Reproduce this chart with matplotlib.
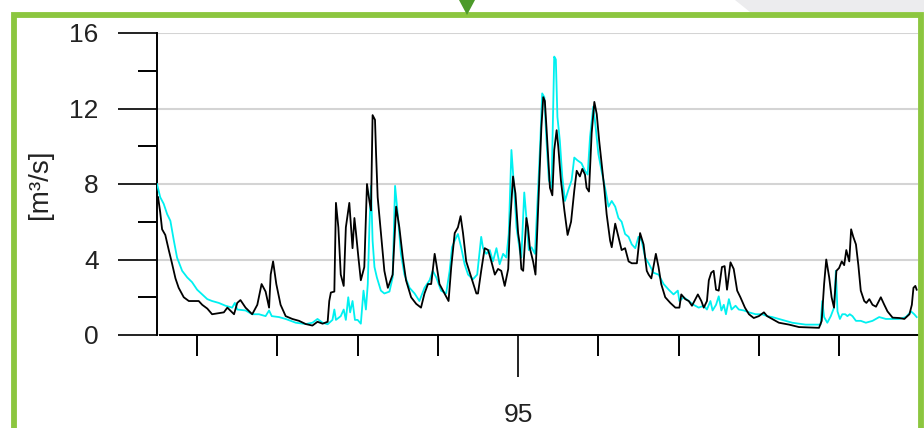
import matplotlib
matplotlib.use("Agg")
import matplotlib.pyplot as plt
from matplotlib.patches import Rectangle, Polygon
from matplotlib.ticker import FixedLocator

plt.rcParams['font.family'] = ['Liberation Sans', 'DejaVu Sans']

# day index (tick every 30 days, "95" = start of year)
black_day = [0.4, 1.2, 1.9, 3.1, 4.4, 5.6, 6.9, 8.1, 10.0, 11.9, 15.6, 16.9, 18.8, 20.6, 25.0, 26.3,
             28.8, 30.0, 31.2, 33.1, 35.6, 37.5, 39.1, 40.6, 41.9, 42.5, 43.4, 44.6, 46.2, 48.1, 50.6,
             53.1, 55.6, 58.1, 60.0, 61.9, 63.8, 64.4, 65.0, 66.3, 66.9, 67.8, 68.7, 69.8, 70.6, 71.9,
             73.1, 73.8, 74.4, 75.3, 76.2, 77.5, 78.5, 79.4, 80.0, 80.6, 81.5, 81.9, 82.5, 83.7, 85.0,
             86.3, 88.1, 89.4, 90.6, 91.9, 93.1, 95.0, 96.9, 98.7, 100.0, 101.3, 102.5, 103.8, 104.4,
             105.6, 107.5, 109.0, 110.0, 111.3, 112.5, 113.5, 114.4, 115.6, 117.5, 119.4, 120.0, 121.2,
             122.5, 123.8, 125.0, 126.3, 127.5, 128.7, 130.0, 131.3, 131.9, 133.1, 134.0, 135.0, 135.6,
             136.2, 136.9, 138.1, 138.7, 139.4, 140.6, 141.5, 142.5, 143.1, 143.7, 144.4, 145.0, 145.6,
             146.3, 146.9, 147.8, 148.5, 149.4, 150.0, 151.0, 152.3, 153.5, 154.8, 156.0, 156.9, 158.1,
             159.0, 160.0, 160.6, 161.5, 162.5, 163.5, 164.4, 165.3, 166.2, 167.2, 168.1, 169.4, 170.0,
             171.3, 172.5, 173.7, 175.0, 176.3, 177.5, 179.4, 180.6, 181.9, 183.1, 183.8, 184.8, 185.6,
             186.5, 187.5, 188.5, 190.0, 191.9, 193.8, 195.3, 196.0, 197.5, 198.8, 200.0, 201.3, 202.2,
             203.5, 204.4, 205.6, 206.3, 207.2, 208.1, 209.0, 210.0, 211.2, 212.2, 213.1, 214.4, 215.6,
             216.9, 218.1, 219.8, 221.3, 223.1, 225.0, 226.9, 228.1, 230.0, 232.5, 236.3, 240.0, 243.8,
             247.5, 248.5, 249.4, 250.2, 251.3, 252.2, 253.1, 254.0, 255.0, 256.0, 256.9, 257.7, 258.8,
             259.5, 260.3, 261.3, 262.2, 263.1, 264.4, 265.2, 266.3, 267.5, 268.8, 270.6, 271.9, 273.1,
             275.0, 277.5, 279.4, 281.3, 282.2, 282.8, 283.5, 284.0]
black_q = [7.3, 6.5, 5.6, 5.3, 4.5, 3.8, 3.0, 2.5, 2.0, 1.8, 1.8, 1.6, 1.4, 1.1, 1.2, 1.45,
           1.1, 1.7, 1.85, 1.45, 1.1, 1.6, 2.7, 2.3, 1.45, 3.2, 3.9, 2.7, 1.6, 1.0, 0.85,
           0.75, 0.58, 0.5, 0.7, 0.6, 0.7, 1.8, 2.25, 2.3, 7.0, 5.7, 3.2, 2.6, 5.7, 7.0,
           4.6, 6.2, 5.4, 4.1, 2.9, 3.6, 8.0, 7.1, 6.6, 11.65, 11.4, 9.6, 7.3, 5.4, 3.4,
           2.5, 3.2, 6.8, 5.7, 4.1, 2.9, 2.0, 1.65, 1.45, 2.2, 2.7, 2.7, 4.3, 3.8,
           2.7, 2.2, 1.8, 3.6, 5.4, 5.7, 6.3, 5.4, 3.9, 3.05, 2.2, 2.2, 3.4,
           4.6, 4.5, 3.9, 3.2, 3.5, 3.4, 2.6, 3.5, 5.7, 8.4, 7.5, 5.4, 4.8,
           3.5, 3.4, 6.2, 5.7, 4.6, 3.9, 3.2, 6.8, 8.9, 11.0, 12.6, 12.4, 11.0,
           9.25, 7.8, 7.4, 9.8, 10.85, 10.0, 8.2, 6.6, 5.3, 6.0, 7.65, 8.7, 8.4,
           8.8, 8.5, 7.8, 7.6, 10.7, 12.35, 11.7, 10.3, 9.1, 7.8, 6.4, 5.0, 4.65,
           5.9, 5.2, 4.5, 4.6, 3.9, 3.8, 3.8, 5.4, 4.8, 3.4, 3.2, 3.0, 3.6,
           4.3, 3.6, 2.7, 2.0, 1.7, 1.45, 1.45, 2.15, 1.9, 1.8, 1.55, 1.9, 2.15,
           1.8, 1.45, 1.8, 2.9, 3.3, 3.4, 2.4, 2.35, 3.6, 3.65, 2.4, 3.85, 3.5,
           2.35, 2.0, 1.45, 1.1, 0.9, 1.0, 1.2, 1.0, 0.85, 0.65, 0.55, 0.42, 0.4,
           0.38, 0.75, 2.7, 4.0, 3.05, 2.0, 1.45, 3.4, 3.55, 3.9, 3.7, 4.5, 3.9,
           5.6, 5.2, 4.8, 3.7, 2.35, 1.8, 1.7, 1.9, 1.6, 1.5, 2.0, 1.6, 1.25,
           0.92, 0.9, 0.85, 1.1, 1.6, 2.5, 2.6, 2.4]

cyan_day = [0.0, 1.2, 2.5, 3.8, 5.0, 6.3, 7.5, 9.4, 11.3, 13.1, 15.0, 16.9, 18.8, 20.6, 23.1, 25.6,
            28.1, 29.1, 30.0, 33.1, 35.6, 38.1, 40.6, 41.9, 42.9, 45.6, 48.1, 51.9, 55.6, 58.1, 60.0,
            61.9, 63.8, 65.6, 66.3, 66.9, 68.7, 69.8, 70.6, 71.5, 72.2, 73.1, 74.0, 75.0, 76.2, 77.2,
            78.1, 78.8, 79.4, 80.0, 80.6, 81.3, 82.2, 83.7, 85.0, 86.9, 88.1, 89.0, 90.0, 91.2, 92.5,
            94.4, 96.3, 98.1, 100.0, 101.9, 103.1, 104.4, 106.2, 108.1, 109.4, 110.3, 111.3, 112.5,
            113.7, 115.0, 116.3, 118.1, 119.7, 121.2, 121.9, 123.1, 124.4, 125.6, 126.9, 128.1, 129.4,
            130.6, 131.5, 132.5, 133.5, 134.4, 135.6, 136.2, 137.3, 138.1, 139.0, 140.0, 141.3, 142.5,
            143.3, 144.0, 144.8, 145.6, 146.5, 147.5, 148.5, 149.1, 149.7, 150.6, 151.5, 152.5, 153.8,
            155.0, 156.0, 157.2, 158.7, 160.0, 161.0, 161.9, 163.1, 164.0, 165.0, 166.2, 167.5, 168.8,
            170.0, 171.3, 172.5, 173.7, 175.0, 176.3, 177.5, 178.8, 180.0, 181.2, 182.5, 183.8, 185.6,
            187.5, 189.4, 191.3, 193.1, 194.7, 195.3, 196.9, 198.8, 200.6, 202.5, 204.4, 205.6, 206.9,
            207.7, 209.0, 210.0, 211.0, 211.9, 212.7, 213.8, 214.8, 216.3, 217.5, 219.4, 221.3, 223.8,
            226.2, 228.1, 230.0, 232.5, 237.5, 242.5, 246.3, 248.1, 248.7, 249.4, 250.6, 251.9, 253.1,
            253.8, 254.4, 255.3, 256.2, 257.3, 258.1, 259.0, 260.0, 261.3, 263.1, 265.0, 267.5, 270.0,
            272.5, 275.0, 277.5, 280.0, 281.9, 283.1, 284.0]
cyan_q = [8.0, 7.3, 6.95, 6.4, 6.05, 5.0, 4.1, 3.4, 3.05, 2.8, 2.4, 2.15, 1.9, 1.8, 1.7, 1.55,
          1.45, 1.7, 1.35, 1.3, 1.1, 1.1, 1.0, 1.3, 1.0, 0.95, 0.85, 0.65, 0.58, 0.65, 0.85,
          0.65, 0.57, 0.8, 1.35, 0.8, 1.0, 1.35, 0.8, 2.0, 1.2, 1.8, 0.8, 0.8, 0.6, 2.35,
          1.35, 2.7, 5.7, 7.9, 5.0, 3.6, 3.05, 2.35, 2.2, 2.3, 3.05, 7.9, 6.4, 4.3, 3.2,
          2.5, 2.2, 1.8, 2.5, 2.9, 3.4, 3.05, 2.35, 2.2, 3.4, 4.65, 5.0, 5.35,
          4.65, 3.75, 3.2, 2.95, 3.2, 5.2, 4.6, 4.3, 4.5, 3.9, 4.6, 3.75, 4.3,
          4.1, 5.35, 9.8, 7.8, 5.7, 4.5, 4.1, 7.55, 6.2, 4.5, 4.65, 4.3, 7.8,
          10.3, 12.8, 12.6, 10.3, 8.2, 7.8, 14.75, 14.6, 11.55, 10.3, 8.4, 7.1, 7.7,
          8.2, 9.4, 9.25, 9.1, 8.7, 8.5, 10.5, 12.1, 11.0, 9.6, 8.7, 7.8, 6.8,
          7.1, 6.8, 6.2, 6.0, 5.35, 5.2, 4.8, 4.6, 5.2, 5.0, 4.1, 3.8, 3.3,
          3.2, 2.7, 2.4, 2.15, 2.35, 1.8, 2.0, 1.8, 1.6, 1.45, 1.55, 1.35, 1.8,
          1.3, 1.6, 2.05, 1.3, 1.6, 1.1, 1.9, 1.35, 1.55, 1.35, 1.3, 1.2, 1.1,
          1.1, 1.0, 0.95, 0.85, 0.65, 0.55, 0.55, 0.55, 1.8, 0.95, 0.65, 1.0, 1.45,
          3.4, 1.25, 0.85, 1.1, 1.1, 1.0, 1.1, 1.0, 0.75, 0.75, 0.65, 0.75, 0.95,
          0.85, 0.85, 0.85, 0.95, 1.25, 1.1, 0.95]

year_tick = [135]
year_label = ['95']
month_ticks = [15, 45, 75, 105, 165, 195, 225, 255]
y_major = [0, 4, 8, 12, 16]
y_minor = [2, 6, 10, 14]

green = '#8cc63f'

fig = plt.figure(figsize=(9.24, 4.28), dpi=100)
W, H = 924, 428

# decoration at top: gray shape, green frame and little arrow
fig.add_artist(Polygon([[735 / W, 1], [924 / W, 1], [924 / W, 1 - 12 / H], [750 / W, 1 - 12 / H]],
                       closed=True, transform=fig.transFigure, facecolor='#ececee', edgecolor='none'))
fig.add_artist(Rectangle((14 / W, -0.05), (921 - 14) / W, 1 - 14.5 / H + 0.05,
                         transform=fig.transFigure, fill=False, edgecolor=green, linewidth=4.2))
fig.add_artist(Polygon([[459 / W, 1], [475 / W, 1], [467 / W, 1 - 15 / H]], closed=True,
                       transform=fig.transFigure, facecolor='#4c9a2a', edgecolor='none'))

ax = fig.add_axes([157 / W, 1 - 335 / H, (918 - 157) / W, (335 - 33) / H])
ax.plot(cyan_day, cyan_q, color='#00f0f0', linewidth=1.3, zorder=3)
ax.plot(black_day, black_q, color='black', linewidth=1.3, zorder=4)

ax.set_xlim(0, 284.5)
ax.set_ylim(0, 16)

ax.set_yticks(y_major)
ax.yaxis.set_minor_locator(FixedLocator(y_minor))
ax.set_xticks(year_tick)
ax.set_xticklabels(year_label)
ax.xaxis.set_minor_locator(FixedLocator(month_ticks))

ax.tick_params(axis='y', which='major', length=28, width=1.4, pad=14, labelsize=19, colors='#222222')
ax.tick_params(axis='y', which='minor', length=14, width=1.4)
ax.tick_params(axis='x', which='major', length=30, width=1.4, pad=19, labelsize=19, colors='#222222')
ax.tick_params(axis='x', which='minor', length=15, width=1.4)

ax.grid(axis='y', color='#d4d4d4', linewidth=1.5)
ax.set_axisbelow(True)

for s in ['top', 'right']:
    ax.spines[s].set_visible(False)
ax.spines['left'].set_linewidth(1.4)
ax.spines['bottom'].set_linewidth(1.4)
ax.spines['bottom'].set_bounds(1.2, 284.5)

ax.set_ylabel('[m³/s]', fontsize=20, color='#222222', labelpad=12)

fig.savefig('out.png', dpi=100)
